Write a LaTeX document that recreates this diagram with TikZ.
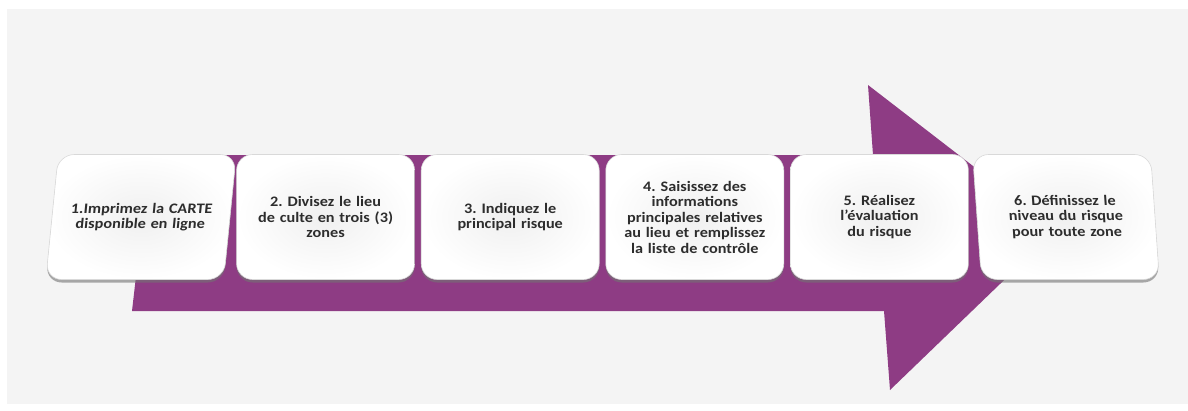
\documentclass[tikz,border=0pt]{standalone}
\usepackage{fontspec}
\setmainfont{Carlito}[FakeStretch=1.12]
\frenchspacing
\usetikzlibrary{positioning,shadows}
\definecolor{arrowpurple}{RGB}{142,60,132}
\definecolor{pagegray}{RGB}{244,244,244}
\definecolor{textgray}{RGB}{45,45,45}
\tikzset{
  stepbox/.style={
      rectangle,
      rounded corners=16pt,
      minimum width=178pt,
      minimum height=125pt,
      text width=165pt,
      align=center,
      inner color=black!6,
      outer color=white,
      draw=black!15,
      line width=0.6pt,
      drop shadow={shadow xshift=0pt, shadow yshift=-3pt, fill=black!55, opacity=0.6},
      font=\bfseries\fontsize{14.5}{15.5}\selectfont,
      text=textgray,
      execute at end node={\par\vskip10pt}
      }
}

\begin{document}
\begin{tikzpicture}[x=1pt,y=-1pt,node distance=6pt]
\useasboundingbox (0,0) rectangle (1188,410);
\fill[white] (0,0) rectangle (1188,410);
\fill[pagegray] (7,9) rectangle (1188,404);
% big arrow behind the steps
\fill[arrowpurple] (150,155) -- (873,155) -- (868,85) -- (1056,230) -- (890,390) -- (884,311) -- (132,311) -- cycle;
% steps
\node[stepbox, xslant=0.1, transform shape] (s1) at (141,217) {1.Imprimez la CARTE\\disponible en ligne};
\node[stepbox, right=of s1] (s2) {2. Divisez le lieu\\de culte en trois (3)\\zones};
\node[stepbox, right=of s2] (s3) {3. Indiquez le\\principal risque};
\node[stepbox, right=of s3] (s4) {4. Saisissez des\\informations\\principales relatives\\au lieu et remplissez\\la liste de contrôle};
\node[stepbox, right=of s4] (s5) {5. Réalisez\\l’évaluation\\du risque};
\node[stepbox, right=8pt of s5, xslant=-0.07, transform shape] (s6) {6. Définissez le\\niveau du risque\\pour toute zone};
\end{tikzpicture}
\end{document}
